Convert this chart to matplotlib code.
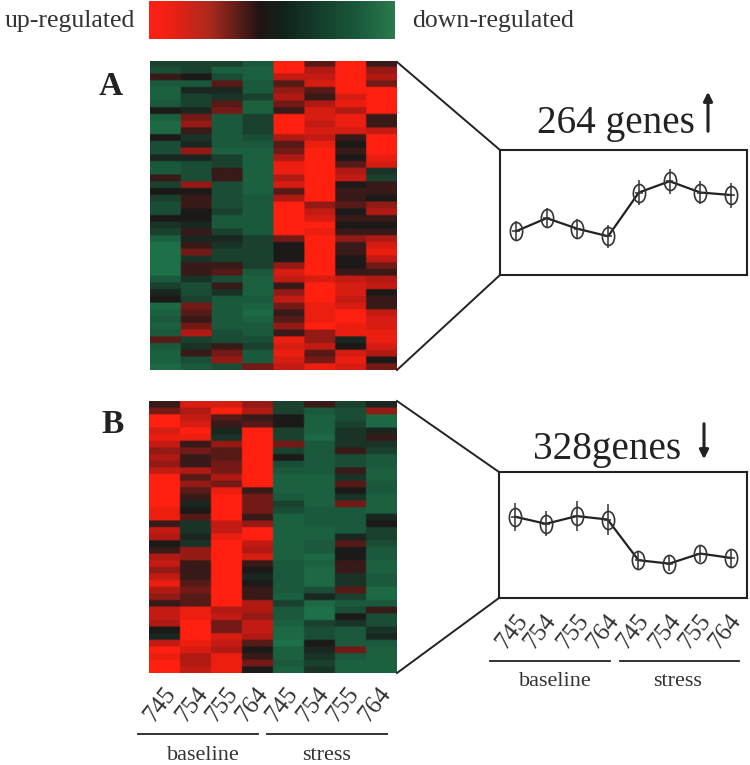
import numpy as np
import matplotlib
matplotlib.use("Agg")
import matplotlib.pyplot as plt
from matplotlib.colors import LinearSegmentedColormap
from matplotlib.path import Path
from matplotlib.transforms import Affine2D

plt.rcParams['font.family'] = ['Liberation Serif', 'DejaVu Serif']

samples = ['745', '754', '755', '764', '745', '754', '755', '764']

# heat values, tenths: + is red (up), - is green (down)
heat_a = [
    [-3,-3,-3,-5,9,2,10,1], [-4,-3,-6,-6,9,5,10,4], [1,0,-4,-6,6,6,10,5],
    [-5,-5,2,-5,2,7,10,3], [-6,-1,-1,-5,4,2,10,9], [-6,-3,-2,-3,5,1,7,9],
    [-5,-3,2,-6,3,5,8,9], [0,-1,3,-6,1,7,5,9], [-6,3,-5,-3,9,7,8,1],
    [-7,4,-5,-3,10,6,8,1], [-7,1,-5,-3,10,7,7,6], [0,-2,-5,-4,5,6,1,9],
    [-4,-1,-5,-5,2,8,0,9], [-4,4,-6,-6,3,10,1,9], [-1,-1,-3,-6,5,10,0,8],
    [-5,-4,-3,-6,8,10,2,7], [-5,-4,1,-6,8,10,5,-2], [1,-4,1,-6,5,10,6,-3],
    [-3,4,-4,-6,7,10,0,1], [0,0,-4,-6,2,10,1,1], [-3,1,-4,-5,5,10,1,0],
    [-4,1,-4,-5,10,4,2,4], [-4,0,-3,-5,10,6,0,5], [0,0,-5,-5,10,7,1,1],
    [-2,-1,-5,-5,10,9,0,0], [-3,1,-3,-5,10,8,1,1], [-6,-1,-1,-3,3,9,4,5],
    [-8,1,-2,-3,0,10,1,7], [-8,3,-3,-3,0,10,1,8], [-8,-2,-3,-3,0,10,0,6],
    [-8,1,1,-3,4,10,0,3], [-8,1,2,-5,7,9,1,1], [-5,-2,-4,-6,6,7,6,5],
    [-3,-4,1,-6,1,10,7,6], [-1,-4,-2,-6,4,10,7,0], [0,-3,-5,-5,6,10,6,1],
    [-7,3,-5,-6,3,8,7,1], [-6,2,-5,-7,1,8,9,6], [-5,1,-5,-6,2,8,9,7],
    [-6,3,-5,-5,4,9,8,7], [-5,5,-4,-5,1,4,8,8], [2,-3,-4,-4,8,4,-1,8],
    [-5,-2,1,-3,7,6,0,7], [-6,1,3,-5,8,2,7,5], [-6,-4,4,-5,7,3,8,0],
    [-7,-5,-4,3,6,8,7,3],
]
heat_b = [
    [1,7,7,4,-3,1,-3,-1], [3,5,9,5,-3,-5,-4,4], [10,6,2,1,0,-6,-4,-7],
    [10,7,1,2,0,-6,-3,-7], [7,9,-1,9,-3,-6,-2,-1], [8,8,-2,9,-3,-7,-2,1],
    [6,1,4,10,3,-5,-2,-2], [4,3,2,10,-3,-5,1,-3], [5,1,2,10,0,-5,-4,-5],
    [4,1,3,10,-4,-5,-4,-5], [6,5,3,10,-5,-5,1,-6], [10,2,5,10,-6,-6,-2,-6],
    [10,4,3,9,-6,-6,2,-5], [10,2,8,1,-6,-6,0,-5], [10,1,9,3,-5,-6,-2,-6],
    [10,-1,9,3,-3,-6,3,-6], [8,0,9,3,-4,-5,-5,-6], [8,2,9,1,-6,-5,-5,-1],
    [1,-2,6,4,-6,-5,-5,0], [6,-2,6,10,-6,-6,-5,-3], [5,-1,8,10,-6,-6,-1,-3],
    [0,-2,10,6,-6,-5,2,-4], [1,4,10,5,-6,-5,0,-5], [5,4,10,7,-6,-7,0,-5],
    [6,1,9,1,-5,-6,1,-6], [4,1,10,0,-5,-7,1,-6], [6,1,10,-1,-5,-7,-2,-5],
    [8,2,10,0,-5,-7,-2,-5], [5,3,10,1,-5,-4,2,-7], [4,2,10,1,-6,-1,-3,-7],
    [1,2,10,5,-3,-7,-5,-5], [6,8,5,5,-5,-8,-4,1], [6,8,6,4,-5,-8,0,-4],
    [5,10,3,6,-6,-3,-2,-4], [0,10,3,6,-7,-4,-5,-2], [-1,10,7,5,-7,-4,-5,-1],
    [6,8,6,2,-8,0,-5,-5], [9,7,5,0,-6,-1,3,-6], [8,5,8,1,-6,-2,-5,-6],
    [9,5,8,3,-5,-3,-6,-6], [10,6,8,0,-6,-2,-6,-6],
]

# mean profile of each cluster, box height = 1
profile_a = [0.35, 0.455, 0.37, 0.31, 0.66, 0.75, 0.66, 0.64]
err_a = [0.08, 0.08, 0.08, 0.09, 0.10, 0.10, 0.09, 0.10]
profile_b = [0.645, 0.589, 0.650, 0.623, 0.300, 0.273, 0.353, 0.318]
err_b = [0.11, 0.10, 0.12, 0.12, 0.07, 0.06, 0.07, 0.07]

W, H = 750, 765
key_cmap = LinearSegmentedColormap.from_list(
    'key', [(0, '#ff2014'), (0.08, '#f02014'), (0.25, '#a82a1c'), (0.45, '#201414'),
            (0.55, '#10241c'), (0.85, '#1a5a3c'), (1, '#2a7a4c')])
heat_cmap = LinearSegmentedColormap.from_list(
    'hm', [(0, '#1f8050'), (0.25, '#1a5a3c'), (0.5, '#1b1a1a'), (0.75, '#b01a14'),
           (0.95, '#ff2010'), (1, '#ff2010')])
ink = '#222222'

fig = plt.figure(figsize=(7.5, 7.65), dpi=100)


def px_axes(x0, y0, x1, y1):
    # axes from pixel box, y measured from the top
    return fig.add_axes([x0 / W, 1 - y1 / H, (x1 - x0) / W, (y1 - y0) / H])


# overlay in pixel coordinates for the annotation parts
ov = fig.add_axes([0, 0, 1, 1], zorder=5)
ov.set_xlim(0, W)
ov.set_ylim(H, 0)
ov.axis('off')
ov.patch.set_alpha(0)

# gradient key
ax = px_axes(149, 1, 395, 39)
ax.imshow(np.linspace(0, 1, 256)[None, :], aspect='auto', cmap=key_cmap)
ax.axis('off')
ov.text(5, 21, 'up-regulated', fontsize=18.5, va='center', ha='left', color='#333333')
ov.text(412, 21, 'down-regulated', fontsize=18.5, va='center', ha='left', color='#333333')

# heatmaps, repeated so the smoothing only softens the cell edges
for data, box in [(heat_a, (150, 61, 397, 370)), (heat_b, (149, 401, 397, 673))]:
    ax = px_axes(*box)
    cells = np.repeat(np.repeat(np.array(data) / 10.0, 4, axis=0), 20, axis=1)
    ax.imshow(cells, aspect='auto', cmap=heat_cmap, vmin=-1, vmax=1,
              interpolation='bilinear')
    ax.axis('off')

ov.text(111, 86, 'A', fontsize=24, fontweight='bold', ha='center', va='center', color=ink)
ov.text(113, 424, 'B', fontsize=24, fontweight='bold', ha='center', va='center', color=ink)

# connector lines
for xs, ys in [((397, 500), (62, 150)), ((397, 500), (370, 275)),
               ((397, 499), (401, 472)), ((397, 499), (673, 598))]:
    ov.plot(xs, ys, color=ink, lw=1.4)

ellipse = Path.unit_circle().transformed(Affine2D().scale(0.68, 1))


def profile_panel(box, values, errs):
    ax = px_axes(*box)
    x = np.arange(1, len(values) + 1)
    ax.plot(x, values, color=ink, lw=1.6)
    ax.errorbar(x, values, yerr=errs, xerr=0.12, fmt='none', ecolor='#333333', elinewidth=1.1)
    ax.plot(x, values, ls='none', marker=ellipse, ms=13, mfc='none', mec='#333333', mew=1.2)
    ax.set_xlim(0.48, 8.52)
    ax.set_ylim(0, 1)
    ax.set_xticks([])
    ax.set_yticks([])
    for s in ax.spines.values():
        s.set_linewidth(1.5)
        s.set_color(ink)


profile_panel((500, 150, 747, 275), profile_a, err_a)
profile_panel((499, 472, 747, 598), profile_b, err_b)

ov.text(537, 123, '264 genes', fontsize=28.3, ha='left', va='center', color=ink)
ov.text(533, 449, '328genes', fontsize=28.3, ha='left', va='center', color=ink)
ov.annotate('', xy=(708, 89), xytext=(708, 134),
            arrowprops=dict(arrowstyle='-|>', color=ink, lw=2.2, mutation_scale=13))
ov.annotate('', xy=(704, 462), xytext=(704, 421),
            arrowprops=dict(arrowstyle='-|>', color=ink, lw=2.2, mutation_scale=13))

# rotated sample labels and group bars
left_x = [160, 192, 222, 252, 282, 313, 343, 375]
right_x = [512, 540, 573, 603, 633, 665, 695, 725]
for xs, y in [(left_x, 705), (right_x, 632)]:
    for xp, s in zip(xs, samples):
        ov.text(xp, y, s, fontsize=18, rotation=52, ha='center', va='center',
                color='#333333')

ov.plot([138, 258], [734, 734], color=ink, lw=1.3)
ov.plot([267, 387], [734, 734], color=ink, lw=1.3)
ov.plot([490, 610], [661, 661], color=ink, lw=1.3)
ov.plot([620, 739], [661, 661], color=ink, lw=1.3)
ov.text(203, 755, 'baseline', fontsize=16, ha='center', va='center', color='#333333')
ov.text(327, 755, 'stress', fontsize=16, ha='center', va='center', color='#333333')
ov.text(555, 682, 'baseline', fontsize=16, ha='center', va='center', color='#333333')
ov.text(678, 682, 'stress', fontsize=16, ha='center', va='center', color='#333333')

fig.savefig('out.png', dpi=100)
